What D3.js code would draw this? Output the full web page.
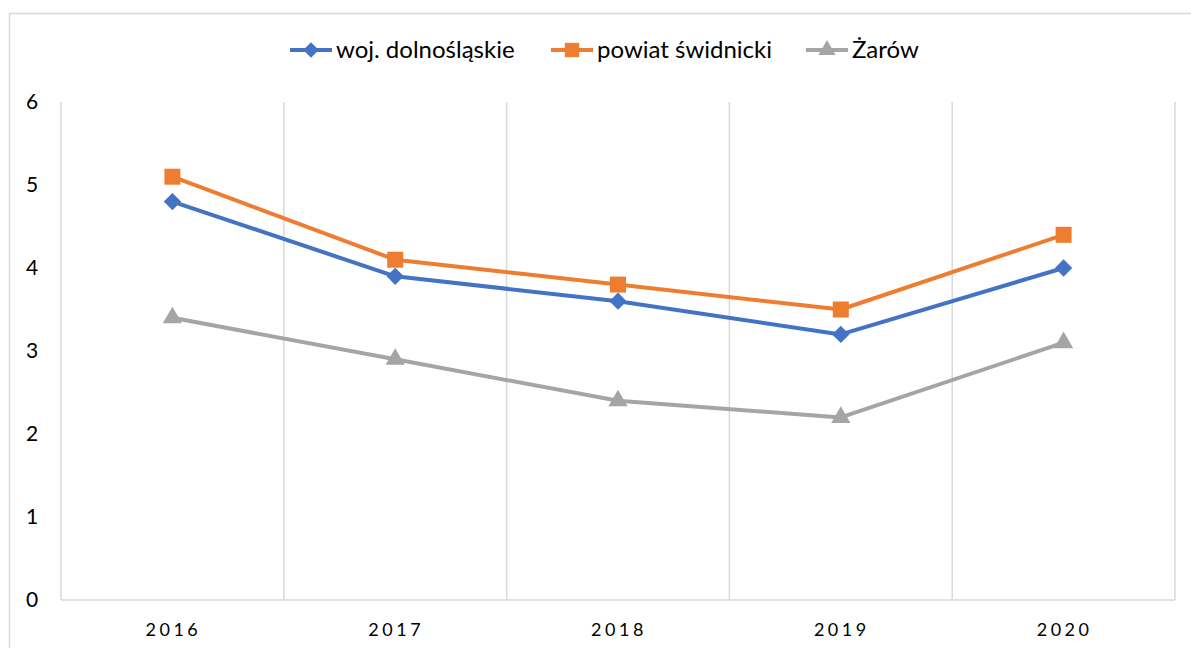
<!DOCTYPE html>
<html>
<head>
<meta charset="utf-8">
<script src="https://cdn.jsdelivr.net/npm/d3@7"></script>
<style>
  body { margin: 0; background: #fff; font-family: Lato, "Open Sans", sans-serif; }
</style>
</head>
<body>
<div id="chart"></div>
<script>
const years = ["2016", "2017", "2018", "2019", "2020"];
const dolnoslaskie = [4.8, 3.9, 3.6, 3.2, 4.0];
const swidnicki = [5.1, 4.1, 3.8, 3.5, 4.4];
const zarow = [3.4, 2.9, 2.4, 2.2, 3.1];
const yTicks = [0, 1, 2, 3, 4, 5, 6];

const series = [
  { name: "woj. dolnośląskie", values: dolnoslaskie, color: "#4472C4", symbol: d3.symbolDiamond2, size: 190, legendX: 290 },
  { name: "powiat świdnicki", values: swidnicki, color: "#ED7D31", symbol: d3.symbolSquare, size: 256, legendX: 551 },
  { name: "Żarów", values: zarow, color: "#A5A5A5", symbol: d3.symbolTriangle, size: 160, legendX: 806 }
];

const W = 1191, H = 648;
const plot = { left: 61, right: 1175, top: 102, bottom: 600 };

const svg = d3.select("#chart").append("svg")
  .attr("width", W)
  .attr("height", H);

// chart border
svg.append("rect")
  .attr("x", 9.5).attr("y", 13.5)
  .attr("width", W).attr("height", H)
  .attr("fill", "none")
  .attr("stroke", "#d9d9d9")
  .attr("stroke-width", 1.5);

const x = d3.scaleBand().domain(years).range([plot.left, plot.right]);
const y = d3.scaleLinear().domain([0, 6]).range([plot.bottom, plot.top]);

// vertical gridlines at category boundaries
const bounds = years.map(d => x(d)).concat([plot.right]);
svg.append("g").selectAll("line")
  .data(bounds)
  .join("line")
  .attr("x1", d => d).attr("x2", d => d)
  .attr("y1", plot.top).attr("y2", plot.bottom)
  .attr("stroke", "#d9d9d9")
  .attr("stroke-width", 1.5);

// x axis line
svg.append("line")
  .attr("x1", plot.left).attr("x2", plot.right)
  .attr("y1", plot.bottom).attr("y2", plot.bottom)
  .attr("stroke", "#d9d9d9")
  .attr("stroke-width", 1.5);

// y tick labels
svg.append("g").selectAll("text")
  .data(yTicks)
  .join("text")
  .attr("x", 32)
  .attr("y", d => y(d))
  .attr("dy", "0.35em")
  .attr("text-anchor", "middle")
  .attr("font-size", 21)
  .attr("fill", "#000")
  .text(d => d);

// x tick labels
svg.append("g").selectAll("text")
  .data(years)
  .join("text")
  .attr("x", d => x(d) + x.bandwidth() / 2 + 1)
  .attr("y", 630)
  .attr("dy", "0.35em")
  .attr("text-anchor", "middle")
  .attr("font-size", 18)
  .attr("letter-spacing", 3.5)
  .attr("fill", "#000")
  .text(d => d);

const line = d3.line()
  .x((d, i) => x(years[i]) + x.bandwidth() / 2)
  .y(d => y(d));

series.forEach(s => {
  svg.append("path")
    .datum(s.values)
    .attr("fill", "none")
    .attr("stroke", s.color)
    .attr("stroke-width", 4)
    .attr("stroke-linejoin", "round")
    .attr("d", line);

  svg.append("g").selectAll("path")
    .data(s.values)
    .join("path")
    .attr("transform", (d, i) => `translate(${x(years[i]) + x.bandwidth() / 2},${y(d)})`)
    .attr("d", d3.symbol().type(s.symbol).size(s.size))
    .attr("fill", s.color);

  // legend
  const lg = svg.append("g").attr("transform", `translate(${s.legendX},50)`);
  lg.append("line")
    .attr("x1", 0).attr("x2", 42)
    .attr("stroke", s.color)
    .attr("stroke-width", 4);
  lg.append("path")
    .attr("transform", "translate(21,0)")
    .attr("d", d3.symbol().type(s.symbol).size(s.size * 0.8))
    .attr("fill", s.color);
  lg.append("text")
    .attr("x", 46)
    .attr("dy", "0.35em")
    .attr("font-size", 24)
    .attr("fill", "#000")
    .text(s.name);
});
</script>
</body>
</html>
